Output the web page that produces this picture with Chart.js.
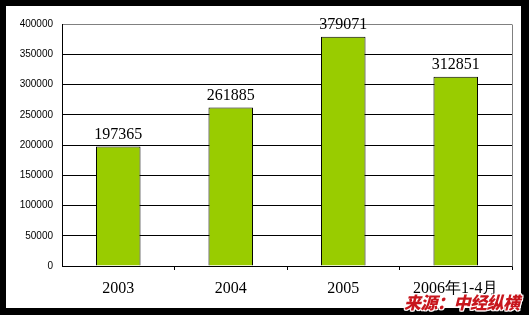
<!DOCTYPE html>
<html>
<head>
<meta charset="utf-8">
<script src="https://cdn.jsdelivr.net/npm/chart.js@4.4.0/dist/chart.umd.min.js"></script>
<style>
  html, body { margin: 0; padding: 0; background: #000; width: 529px; height: 315px; overflow: hidden; }
  #box { position: absolute; left: 6px; top: 6px; width: 515px; height: 302px; background: #fff; }
  #src { position: absolute; left: 404px; top: 293px; font: italic 900 17px "Noto Sans CJK SC", sans-serif; line-height: 17px; color: #C8161D; white-space: nowrap; letter-spacing: -0.5px;
         text-shadow: 1px 0 #fff, -1px 0 #fff, 0 1px #fff, 0 -1px #fff, 1px 1px #fff, -1px -1px #fff, 1px -1px #fff, -1px 1px #fff; }
</style>
</head>
<body>
<div id="box"><canvas id="c" width="515" height="302"></canvas></div>
<div id="src">来源：中经纵横</div>
<script>
const categories = ["2003", "2004", "2005", "2006年1-4月"];
const values = [197365, 261885, 379071, 312851];
const yTicks = [0, 50000, 100000, 150000, 200000, 250000, 300000, 350000, 400000];

const valueLabels = {
  id: 'valueLabels',
  afterDatasetsDraw(chart) {
    const ctx = chart.ctx;
    const meta = chart.getDatasetMeta(0);
    ctx.save();
    ctx.font = '16px "Liberation Serif", serif';
    ctx.fillStyle = '#000';
    ctx.textAlign = 'center';
    ctx.textBaseline = 'alphabetic';
    meta.data.forEach((bar, i) => {
      ctx.fillText(String(values[i]), bar.x, bar.y - 8);
    });
    ctx.restore();
  },
  afterDraw(chart) {
    const a = chart.chartArea;
    const ctx = chart.ctx;
    ctx.save();
    ctx.strokeStyle = '#808080';
    ctx.lineWidth = 1;
    ctx.beginPath();
    ctx.moveTo(Math.round(a.right) + 0.5, Math.round(a.top) + 0.5);
    ctx.lineTo(Math.round(a.right) + 0.5, Math.round(a.bottom) + 0.5);
    ctx.stroke();
    ctx.restore();
  }
};

new Chart(document.getElementById('c'), {
  type: 'bar',
  data: {
    labels: categories,
    datasets: [{
      data: values,
      backgroundColor: '#99CC00',
      borderColor: '#000',
      borderWidth: 1,
      categoryPercentage: 1,
      barPercentage: 0.396
    }]
  },
  options: {
    responsive: false,
    animation: false,
    devicePixelRatio: 1,
    layout: { padding: { top: 18, right: 9, left: 0, bottom: 0 } },
    plugins: { legend: { display: false }, tooltip: { enabled: false } },
    scales: {
      x: {
        offset: true,
        grid: {
          offset: true,
          drawOnChartArea: false,
          drawTicks: true,
          tickLength: 4,
          color: (ctx) => (ctx.index === 0 || ctx.index === categories.length) ? 'rgba(0,0,0,0)' : '#000'
        },
        border: { color: '#000', width: 1 },
        ticks: { color: '#000', font: { family: '"Liberation Serif", serif', size: 16 }, padding: 9, maxRotation: 0, autoSkip: false },
        afterFit(scale) { scale.height = 42; }
      },
      y: {
        min: 0,
        max: 400000,
        afterBuildTicks(scale) { scale.ticks = yTicks.map(v => ({ value: v })); },
        grid: {
          drawTicks: false,
          color: (ctx) => (ctx.tick && ctx.tick.value === 400000) ? '#808080' : '#000'
        },
        border: { color: '#000', width: 1 },
        ticks: {
          color: '#000',
          font: { family: '"Liberation Sans", Arial, sans-serif', size: 10 },
          padding: 9,
          callback: (v) => String(v)
        },
        afterFit(scale) { scale.width = 56; }
      }
    }
  },
  plugins: [valueLabels]
});
</script>
</body>
</html>
